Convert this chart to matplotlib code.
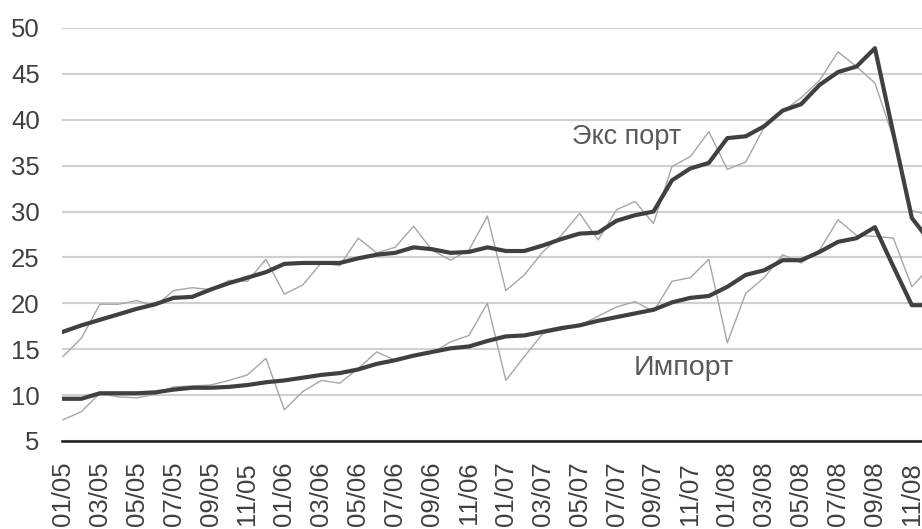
import matplotlib
matplotlib.use("Agg")
import matplotlib.pyplot as plt

plt.rcParams['font.family'] = ['Liberation Sans', 'DejaVu Sans']

months = [f"{m:02d}/{y:02d}" for y in range(5, 9) for m in range(1, 13)]

export_raw = [14.2, 16.2, 19.9, 19.9, 20.3, 19.7, 21.4, 21.7, 21.5, 22.5,
              22.4, 24.8, 21.0, 22.0, 24.4, 24.1, 27.1, 25.5, 26.1, 28.4,
              25.8, 24.7, 25.8, 29.5, 21.4, 23.1, 25.6, 27.4, 29.8, 26.9,
              30.2, 31.1, 28.7, 34.9, 36.0, 38.7, 34.6, 35.4, 39.2, 40.9,
              42.4, 44.3, 47.4, 45.8, 44.0, 38.0, 30.1, 29.6]
export_trend = [16.9, 17.6, 18.2, 18.8, 19.4, 19.9, 20.6, 20.7, 21.5, 22.2,
                22.8, 23.4, 24.3, 24.4, 24.4, 24.4, 24.9, 25.3, 25.5, 26.1,
                25.9, 25.5, 25.6, 26.1, 25.7, 25.7, 26.3, 27.0, 27.6, 27.7,
                29.0, 29.6, 30.0, 33.4, 34.7, 35.3, 38.0, 38.2, 39.3, 41.0,
                41.7, 43.8, 45.2, 45.8, 47.8, 38.5, 29.3, 26.7]
import_raw = [7.3, 8.2, 10.2, 9.8, 9.7, 10.1, 10.9, 11.0, 11.1, 11.6,
              12.2, 14.0, 8.4, 10.4, 11.6, 11.3, 12.9, 14.7, 13.8, 14.4,
              14.6, 15.8, 16.5, 20.0, 11.6, 14.2, 16.7, 17.1, 17.6, 18.6,
              19.6, 20.2, 19.1, 22.4, 22.8, 24.8, 15.7, 21.1, 22.8, 25.3,
              24.4, 25.8, 29.1, 27.4, 27.3, 27.1, 21.8, 24.0]
import_trend = [9.6, 9.6, 10.2, 10.2, 10.2, 10.3, 10.6, 10.8, 10.8, 10.9,
                11.1, 11.4, 11.6, 11.9, 12.2, 12.4, 12.8, 13.4, 13.8, 14.3,
                14.7, 15.1, 15.3, 15.9, 16.4, 16.5, 16.9, 17.3, 17.6, 18.1,
                18.5, 18.9, 19.3, 20.1, 20.6, 20.8, 21.8, 23.1, 23.6, 24.7,
                24.7, 25.6, 26.7, 27.1, 28.3, 24.0, 19.8, 19.8]

yticks = [5, 10, 15, 20, 25, 30, 35, 40, 45, 50]

W, H = 922, 529
fig = plt.figure(figsize=(W / 100, H / 100), dpi=100)
ax = fig.add_axes([62 / W, (H - 441) / H, (W - 62) / W, (441 - 28) / H])

x = list(range(len(months)))
light = '#a6a6a6'
dark = '#404040'
ax.plot(x, export_raw, color=light, lw=1.0, zorder=3)
ax.plot(x, import_raw, color=light, lw=1.0, zorder=3)
ax.plot(x, export_trend, color=dark, lw=3.0, zorder=4)
ax.plot(x, import_trend, color=dark, lw=3.0, zorder=4)

ax.set_xlim(-0.05, 46.55)
ax.set_ylim(5, 50)
ax.set_yticks(yticks)
ax.set_yticklabels([str(v) for v in yticks])
ax.set_xticks(x[::2])
ax.set_xticklabels(months[::2], rotation=90, va='top', ha='center')

ax.grid(axis='y', color='#d0d0d0', lw=1.5, zorder=1)
ax.set_axisbelow(True)
for s in ['top', 'right', 'left']:
    ax.spines[s].set_visible(False)
ax.spines['bottom'].set_color('#1a1a1a')
ax.spines['bottom'].set_linewidth(1.8)
ax.spines['bottom'].set_zorder(5)
ax.tick_params(axis='both', length=0, colors='#404040', labelsize=18.5)
ax.tick_params(axis='y', pad=16)
ax.tick_params(axis='x', pad=15)

ax.text(27.6, 38.1, 'Экс порт', fontsize=19.5, color='#595959', va='center', ha='left')
ax.text(30.9, 12.95, 'Импорт', fontsize=20.5, color='#595959', va='center', ha='left')

fig.savefig('out.png', dpi=100)
